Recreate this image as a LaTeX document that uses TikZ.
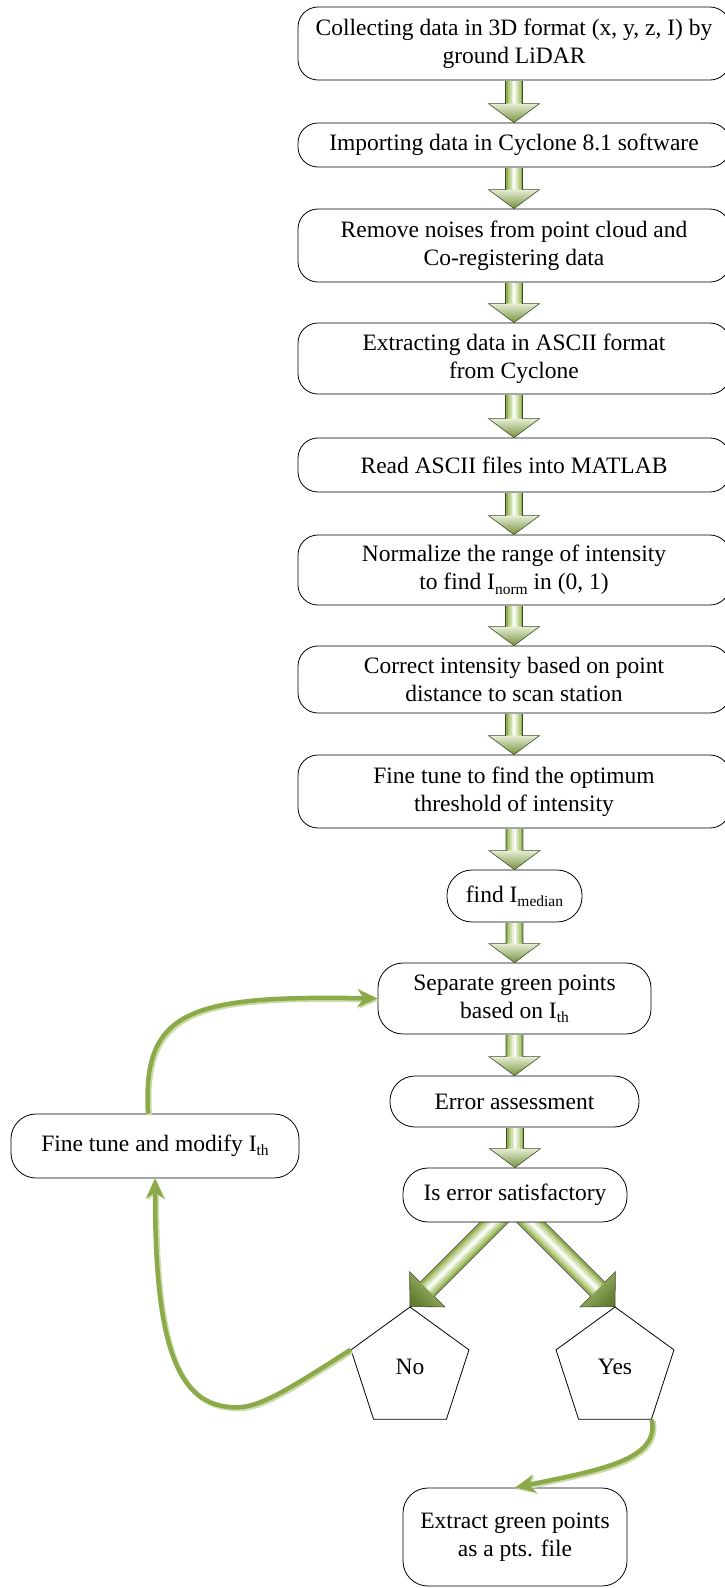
\documentclass[tikz,border=0pt]{standalone}
\usepackage{fontspec}
\setmainfont{Liberation Serif}
\usetikzlibrary{shapes.geometric,arrows.meta,calc,backgrounds}
\definecolor{gdk}{HTML}{76923C}
\definecolor{gmd}{HTML}{9BBB59}
\definecolor{gline}{HTML}{8DAA4B}
\definecolor{gshadow}{HTML}{CCDCA8}
\definecolor{gol}{HTML}{3F4A2A}
\colorlet{gs1}{gdk!35!gmd}
\colorlet{gs2}{gmd!75!white}
\colorlet{gs3}{gmd!50!white}
\colorlet{gs4}{gmd!25!white}
\colorlet{gs5}{gmd!6!white}
\newcommand\sbs[1]{\raisebox{-0.18em}{\fontsize{15.5}{16}\selectfont #1}}
\tikzset{
 box/.style={draw=black, line width=0.8pt, fill=white, rounded corners=20pt, inner sep=0pt, align=center, font=\fontsize{23.5}{28}\selectfont},
 sbox/.style={box, rounded corners=25pt},
 pent/.style={draw=black, line width=0.8pt, fill=white, regular polygon, regular polygon sides=5, minimum size=124pt, inner sep=0pt, font=\fontsize{23.5}{28}\selectfont},
 aline/.style={draw=gol, line width=0.6pt, line join=miter},
 conn/.style={line width=4.5pt, draw=gline, -{Stealth[length=20pt,width=18pt,inset=6pt]}},
 connsh/.style={line width=5pt, draw=gshadow, -{Stealth[length=20pt,width=18pt,inset=6pt]}},
}
\newcommand\vblock[3]{%
 \path let \p1=(#1.south), \p2=(#2.north) in
   coordinate (#3s) at (\x2,\y1-0.5pt)
   coordinate (#3b) at (\x2,\y2+19pt)
   coordinate (#3t) at (\x2,\y2);
 \foreach \w/\c in {17/gs1,13/gs2,9/gs3,5/gs4,2/gs5}{\draw[line width=\w pt,draw=\c] (#3s) -- (#3b);}
 \shade[top color=gs4, bottom color=gdk] ([xshift=-25.5pt]#3b) -- ([xshift=25.5pt]#3b) -- (#3t) -- cycle;
 \draw[aline] ([xshift=-8.5pt]#3s) -- ([xshift=-8.5pt]#3b) -- ([xshift=-25.5pt]#3b) -- (#3t) -- ([xshift=25.5pt]#3b) -- ([xshift=8.5pt]#3b) -- ([xshift=8.5pt]#3s);
}
\newcommand\dblock[3]{%
 \coordinate (#3t) at (#1);
 \coordinate (#3s) at ([shift={(#2*100pt,100pt)}]#3t);
 \coordinate (#3b) at ([shift={(#2*17.25pt,17.25pt)}]#3t);
 \foreach \w/\c in {19/gs1,14.5/gs2,10/gs3,6/gs4,2.5/gs5}{\draw[line width=\w pt,draw=\c] (#3s) -- (#3b);}
 \shade[top color=gmd!80!white, bottom color=gdk!85!black, shading angle={#2*-45}] ([shift={(#2*-0.43pt,34.93pt)}]#3t) -- (#3t) -- ([shift={(#2*34.93pt,-0.43pt)}]#3t) -- cycle;
 \draw[aline] ([shift={(#2*92.93pt,107.07pt)}]#3t) -- ([shift={(#2*10.18pt,24.32pt)}]#3t) -- ([shift={(#2*-0.43pt,34.93pt)}]#3t) -- (#3t) -- ([shift={(#2*34.93pt,-0.43pt)}]#3t) -- ([shift={(#2*24.32pt,10.18pt)}]#3t) -- ([shift={(#2*107.07pt,92.93pt)}]#3t);
}
\newcommand\loopA[3]{\draw[#1] ([shift={(#2-7,#3)}]fine.north) .. controls (142+#2,1010+#3) and (190+#2,995+#3) .. ([shift={(#2,#3)}]b10.west);}
\newcommand\loopB[3]{\draw[#1] ([shift={(#2,#3)}]no.corner 2) .. controls (280+#2,1395+#3) and (255+#2,1410+#3) .. (230+#2,1407+#3) .. controls (172+#2,1403+#3) and (155+#2,1330+#3) .. ([shift={(#2,#3)}]fine.south);}
\newcommand\loopC[3]{\draw[#1] ([shift={(#2,#3)}]yes.corner 4) .. controls (660+#2,1460+#3) and (600+#2,1470+#3) .. ([shift={(#2,#3)}]ext.north);}
\begin{document}
\begin{tikzpicture}[x=1pt,y=-1pt]
\useasboundingbox (0,0) rectangle (725,1588);
\clip (0,0) rectangle (725,1588);
\node[box, minimum width=432pt, minimum height=73pt] (b1) at (514,43.5) {Collecting data in 3D format (x, y, z, I) by\\ground LiDAR};
\node[box, minimum width=432pt, minimum height=44pt] (b2) at (514,145) {Importing data in Cyclone 8.1 software};
\node[box, minimum width=432pt, minimum height=73pt] (b3) at (514,245.5) {Remove noises from point cloud and\\Co-registering data};
\node[box, minimum width=432pt, minimum height=71pt] (b4) at (514,358.5) {Extracting data in ASCII format\\from Cyclone};
\node[box, minimum width=432pt, minimum height=54pt] (b5) at (514,465) {Read ASCII files into MATLAB};
\node[box, minimum width=432pt, minimum height=70pt] (b6) at (514,570) {Normalize the range of intensity\\to find I\sbs{norm} in (0, 1)};
\node[box, minimum width=432pt, minimum height=67pt] (b7) at (514,679.5) {Correct intensity based on point\\distance to scan station};
\node[box, minimum width=432pt, minimum height=73pt] (b8) at (514,791.5) {Fine tune to find the optimum\\threshold of intensity};
\node[sbox, minimum width=135pt, minimum height=52pt] (b9) at (514.5,896) {find I\sbs{median}};
\node[sbox, minimum width=273pt, minimum height=71pt] (b10) at (514.5,998.5) {Separate green points\\based on I\sbs{th}};
\node[sbox, minimum width=249pt, minimum height=51pt] (b11) at (514.5,1101.5) {Error assessment};
\node[sbox, minimum width=224pt, minimum height=54pt] (b12) at (515,1195) {Is error satisfactory};
\node[sbox, minimum width=288pt, minimum height=64pt] (fine) at (155,1146) {Fine tune and modify I\sbs{th}};
\node[pent] (no) at (410,1369) {\raisebox{5pt}{No}};
\node[pent] (yes) at (615,1369) {\raisebox{5pt}{Yes}};
\node[sbox, minimum width=224pt, minimum height=98pt] (ext) at (515,1537) {Extract green points\\as a pts. file};
\vblock{b1}{b2}{a1}
\vblock{b2}{b3}{a2}
\vblock{b3}{b4}{a3}
\vblock{b4}{b5}{a4}
\vblock{b5}{b6}{a5}
\vblock{b6}{b7}{a6}
\vblock{b7}{b8}{a7}
\vblock{b8}{b9}{a8}
\vblock{b9}{b10}{a9}
\vblock{b10}{b11}{a10}
\vblock{b11}{b12}{a11}
\begin{pgfonlayer}{background}
\dblock{no.corner 1}{1}{dl}
\dblock{yes.corner 1}{-1}{dr}
\end{pgfonlayer}
\loopA{connsh}{1.5}{1.5}
\loopA{conn}{0}{0}
\loopB{connsh}{1.5}{1.5}
\loopB{conn}{0}{0}
\loopC{connsh}{1.5}{1.5}
\loopC{conn}{0}{0}
\end{tikzpicture}
\end{document}
